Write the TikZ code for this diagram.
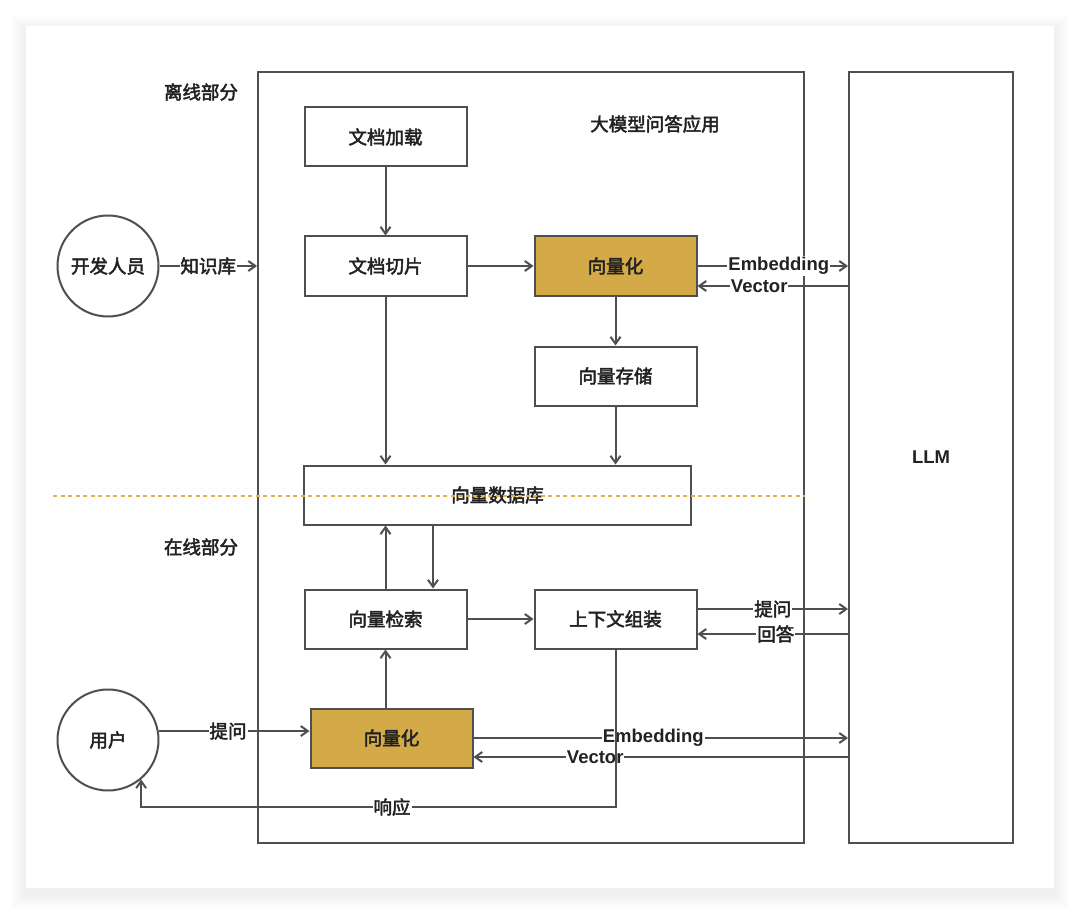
\documentclass[tikz,border=0pt]{standalone}
\usepackage{fontspec}
\usetikzlibrary{arrows.meta}
\newfontfamily\cjkfont{Noto Sans CJK SC}[FakeBold=2.5]
\newfontfamily\latfont{Liberation Sans}
\definecolor{ln}{HTML}{4F4F4F}
\definecolor{txt}{HTML}{222222}
\definecolor{goldc}{HTML}{D4A947}
\definecolor{dashc}{HTML}{E2B04C}
\begin{document}
\begin{tikzpicture}[x=1pt,y=-1pt,
  every node/.style={font=\cjkfont\fontsize{18.5}{21}\selectfont, text=txt},
  box/.style={draw=ln, line width=2pt, minimum width=162pt, minimum height=59pt, inner sep=0pt, fill=white},
  gold/.style={box, fill=goldc},
  frame/.style={draw=ln, line width=2pt, inner sep=0pt},
  person/.style={circle, draw=ln, line width=2pt, minimum size=101pt, inner sep=0pt, fill=white},
  arr/.style={draw=ln, line width=2pt, -{Straight Barb[length=7pt,width=10pt]}},
  lbl/.style={fill=white, inner sep=1pt},
  lat/.style={font=\latfont\bfseries\fontsize{18.5}{21}\selectfont},
]
\useasboundingbox (0,0) rectangle (1080,915);
\fill[white] (0,0) rectangle (1080,915);
% card shadow
\foreach \i in {1,...,16}{
  \fill[black, opacity=0.005] ({26-\i},{26-\i+5}) rectangle ({1054+\i},{888+\i+5});
}
\fill[white] (26,26) rectangle (1054,888);

% frames
\node (app) [frame, minimum width=546pt, minimum height=771pt] at (531,457.5) {};
\node (llm) [frame, minimum width=164pt, minimum height=771pt, lat] at (931,457.5) {LLM};

% section titles
\node (offline) at (201,92) {离线部分};
\node (online) at (201,547) {在线部分};
\node (apptitle) at (655,124) {大模型问答应用};

% boxes
\node (load) [box] at (385.5,137) {文档加载};
\node (slice) [box] at (385.5,266) {文档切片};
\node (vec1) [gold] at (615.5,266) {向量化};
\node (store) [box] at (615.5,376) {向量存储};
\node (db) [box, minimum width=387pt] at (497.5,495) {向量数据库};
\node (ret) [box] at (385.5,619) {向量检索};
\node (ctx) [box] at (615.5,619) {上下文组装};
\node (vec2) [gold] at (391.5,738) {向量化};

% persons
\node (dev) [person] at (108,266) {开发人员};
\node (user) [person] at (108,740) {用户};

% helper coordinates
\coordinate (yV1) at (0,286);
\coordinate (yQ) at (0,609);
\coordinate (yA) at (0,634);
\coordinate (yV2) at (0,757);
\coordinate (xDown) at (433,0);
\coordinate (yResp) at (0,807);

% offline connectors
\draw[arr] (dev.east) -- node[lbl, pos=0.5] (lk) {知识库} (dev.east -| app.west);
\draw[arr] (load.south) -- (slice.north);
\draw[arr] (slice.east) -- (vec1.west);
\draw[arr] (vec1.east) -- node[lbl, lat, pos=0.54] (le1) {Embedding} (vec1.east -| llm.west);
\draw[arr] (llm.west |- yV1) -- node[lbl, lat, pos=0.59] (lv1) {Vector} (vec1.east |- yV1);
\draw[arr] (vec1.south) -- (store.north);
\draw[arr] (store.south) -- (store.south |- db.north);
\draw[arr] (slice.south) -- (slice.south |- db.north);

% online connectors
\draw[arr] (ret.north) -- (ret.north |- db.south);
\draw[arr] (db.south -| xDown) -- (ret.north -| xDown);
\draw[arr] (ret.east) -- (ctx.west);
\draw[arr] (ctx.east |- yQ) -- node[lbl, pos=0.5] (lq) {提问} (llm.west |- yQ);
\draw[arr] (llm.west |- yA) -- node[lbl, pos=0.48] (la) {回答} (ctx.east |- yA);
\draw[arr] (ret.south |- vec2.north) -- (ret.south);
\draw[arr] (user.10) -- node[lbl, pos=0.46] (lq2) {提问} (user.10 -| vec2.west);
\draw[arr] (vec2.east) -- node[lbl, lat, pos=0.48] (le2) {Embedding} (vec2.east -| llm.west);
\draw[arr] (llm.west |- yV2) -- node[lbl, lat, pos=0.675] (lv2) {Vector} (vec2.east |- yV2);
\draw[arr] (ctx.south) -- (ctx.south |- yResp) -| (user.-50);
\node (lr) [lbl] at (392,807) {响应};

% dashed divider
\draw[dashc, line width=1.8pt, dash pattern=on 4pt off 3.5pt] (53,496) -- (805,496);
\end{tikzpicture}
\end{document}
